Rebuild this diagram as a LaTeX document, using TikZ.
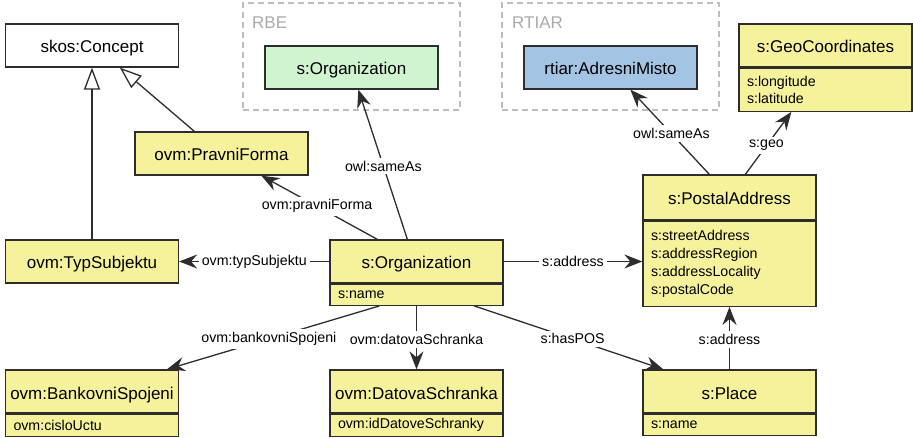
\documentclass[tikz,border=0pt]{standalone}
\usepackage{fontspec}
\setmainfont{Liberation Sans}
\usetikzlibrary{arrows.meta,calc}
\definecolor{clsyellow}{RGB}{246,242,155}
\definecolor{extgreen}{RGB}{207,244,207}
\definecolor{extblue}{RGB}{164,196,228}
\definecolor{edge}{RGB}{45,45,45}
\definecolor{groupline}{RGB}{190,190,190}
\definecolor{grouptext}{RGB}{170,170,170}
\begin{document}
\begin{tikzpicture}[x=1pt,y=-1pt,
  titlefont/.style={font=\fontsize{17}{20}\selectfont},
  smallfont/.style={font=\fontsize{14.2}{17.7}\selectfont},
  boxhead/.style={draw=edge, line width=1.3pt, fill=clsyellow, minimum width=173pt,
    minimum height=43pt, inner sep=0pt, text height=15pt, text depth=0pt, titlefont},
  boxattr/.style={draw=edge, line width=1.3pt, fill=clsyellow, minimum width=173pt,
    text width=157pt, inner xsep=8pt, inner ysep=0pt, align=left, smallfont, anchor=north},
  group/.style={draw=groupline, line width=1.2pt, dash pattern=on 6pt off 4pt,
    minimum width=217pt, minimum height=107pt, inner sep=0pt},
  grouplabel/.style={text=grouptext, titlefont, anchor=west, inner sep=0pt},
  rel/.style={draw=edge, line width=1.3pt, -{Stealth[length=18pt,width=14pt,inset=6pt]}},
  gen/.style={draw=edge, line width=1.3pt, -{Triangle[open,length=22pt,width=16pt]}},
  lbl/.style={fill=white, smallfont, inner sep=3pt},
]
\useasboundingbox (0,0) rectangle (913,438);

% external groups
\node[group] (rbe) at (351.5,56.5) {};
\node[grouplabel] (rbelabel) at (252,23) {RBE};
\node[group] (rtiar) at (610.5,56.5) {};
\node[grouplabel] (rtiarlabel) at (512,23) {RTIAR};

% classes
\node[boxhead, fill=white] (concept) at (92,45.5) {skos:Concept};
\node[boxhead, fill=extgreen] (rbeorg) at (351.5,67.5) {s:Organization};
\node[boxhead, fill=extblue] (adresni) at (610.5,67.5) {rtiar:AdresniMisto};

\node[boxhead] (geo) at (825.5,45.5) {s:GeoCoordinates};
\node[boxattr, minimum height=43pt] (geoattr) at (geo.south) {s:longitude\\s:latitude};

\node[boxhead] (pravni) at (221.5,153.5) {ovm:PravniForma};

\node[boxhead, minimum height=45pt] (postal) at (729.5,197.5) {s:PostalAddress};
\node[boxattr, minimum height=85pt] (postalattr) at (postal.south)
  {s:streetAddress\\s:addressRegion\\s:addressLocality\\s:postalCode};

\node[boxhead] (typ) at (92,261.5) {ovm:TypSubjektu};

\node[boxhead] (org) at (416.5,261.5) {s:Organization};
\node[boxattr, minimum height=21pt] (orgattr) at (org.south) {s:name};

\node[boxhead] (bank) at (92,391.5) {ovm:BankovniSpojeni};
\node[boxattr, minimum height=22pt] (bankattr) at (bank.south) {ovm:cisloUctu};

\node[boxhead] (datova) at (416.5,391.5) {ovm:DatovaSchranka};
\node[boxattr, minimum height=22pt] (datovaattr) at (datova.south) {ovm:idDatoveSchranky};

\node[boxhead] (place) at (729.5,391.5) {s:Place};
\node[boxattr, minimum height=21pt] (placeattr) at (place.south) {s:name};

% generalisation
\draw[gen] (typ.north) -- (concept.south);
\draw[gen] ([xshift=60pt]pravni.north west) -- ([xshift=115pt]concept.south west);

% relations
\draw[rel] ([xshift=48pt]org.north west) -- node[lbl, pos=0.52] (lpravni) {ovm:pravniForma} ([xshift=127pt]pravni.south west);
\draw[rel] ([xshift=78pt]org.north west) -- node[lbl, pos=0.49] (lsame1) {owl:sameAs} ([xshift=94pt]rbeorg.south west);
\draw[rel] (org.west) -- node[lbl, pos=0.5] (ltyp) {ovm:typSubjektu} (typ.east);
\draw[rel] (org.east) -- node[lbl, pos=0.5] (laddr1) {s:address} (postalattr.west |- org.east);
\draw[rel] ([xshift=50pt]orgattr.south west) -- node[lbl, pos=0.52] (lbank) {ovm:bankovniSpojeni} ([xshift=162pt]bank.north west);
\draw[rel] (orgattr.south) -- node[lbl, pos=0.53] (ldatova) {ovm:datovaSchranka} (datova.north);
\draw[rel] ([xshift=145pt]orgattr.south west) -- node[lbl, pos=0.52] (lpos) {s:hasPOS} ([xshift=21pt]place.north west);
\draw[rel] (place.north) -- node[lbl, pos=0.48] (laddr2) {s:address} (postalattr.south);
\draw[rel] ([xshift=67pt]postal.north west) -- node[lbl, pos=0.48] (lsame2) {owl:sameAs} ([xshift=107pt]adresni.south west);
\draw[rel] ([xshift=103pt]postal.north west) -- node[lbl, pos=0.46] (lgeo) {s:geo} ([xshift=53pt]geoattr.south west);
\end{tikzpicture}
\end{document}
